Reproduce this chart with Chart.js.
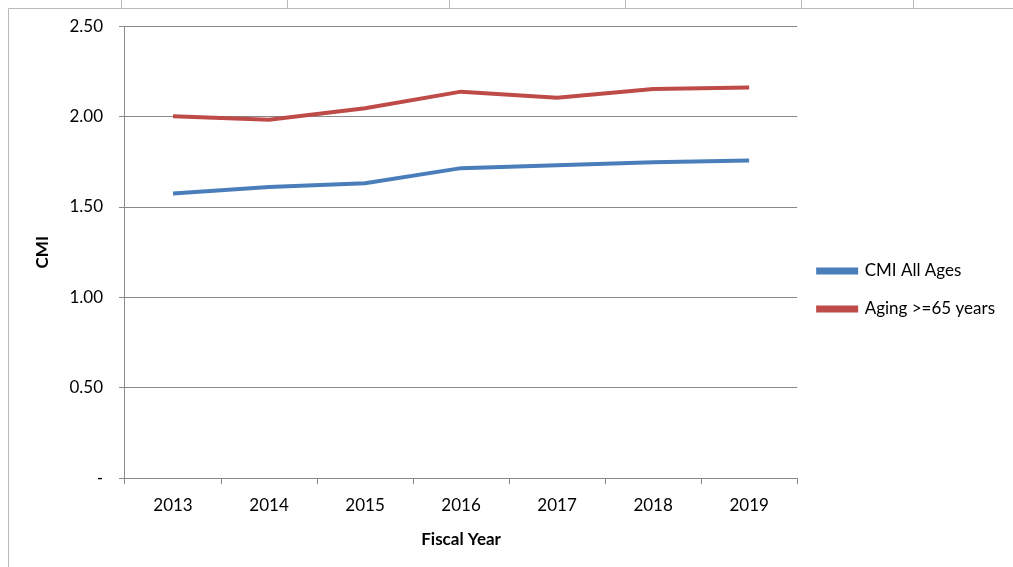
<!DOCTYPE html>
<html lang="en">
<head>
  <meta charset="UTF-8" />
  <title>CMI by Fiscal Year</title>
  <script src="https://cdn.jsdelivr.net/npm/chart.js"></script>
  <style>
    html, body { margin: 0; padding: 0; background: #fff; }
    #wrap { position: relative; width: 1013px; height: 567px; }
  </style>
</head>
<body>
  <div id="wrap">
    <canvas id="cmiChart" width="1013" height="567"></canvas>
  </div>

  <script>
    // Case mix index per fiscal year
    const years = ['2013', '2014', '2015', '2016', '2017', '2018', '2019'];
    const cmiAllAges = [1.575, 1.61, 1.632, 1.715, 1.731, 1.747, 1.757];
    const cmiAging65 = [2.002, 1.982, 2.046, 2.138, 2.104, 2.152, 2.161];
    const yTicks = [0, 0.5, 1.0, 1.5, 2.0, 2.5];

    const gridGray = '#898989';
    const font = "Lato, 'Liberation Sans', sans-serif";

    // worksheet cell borders behind the chart
    const sheetLines = {
      id: 'sheetLines',
      beforeDraw(chart) {
        const ctx = chart.ctx;
        ctx.save();
        ctx.fillStyle = '#fff';
        ctx.fillRect(0, 0, chart.width, chart.height);
        ctx.strokeStyle = '#b9b9b9';
        ctx.lineWidth = 1;
        ctx.beginPath();
        ctx.moveTo(8.5, 8.5);
        ctx.lineTo(chart.width, 8.5);
        ctx.moveTo(8.5, 8.5);
        ctx.lineTo(8.5, chart.height);
        [121, 287, 449, 625, 801, 913].forEach(x => {
          ctx.moveTo(x + 0.5, 0);
          ctx.lineTo(x + 0.5, 8);
        });
        ctx.stroke();
        ctx.restore();
      }
    };

    const ctx = document.getElementById('cmiChart').getContext('2d');
    new Chart(ctx, {
      type: 'line',
      data: {
        labels: years,
        datasets: [
          {
            label: 'CMI All Ages',
            data: cmiAllAges,
            borderColor: '#4a7ebb',
            backgroundColor: '#4a7ebb',
            borderWidth: 4,
            pointRadius: 0,
            tension: 0
          },
          {
            label: 'Aging >=65 years',
            data: cmiAging65,
            borderColor: '#be4b48',
            backgroundColor: '#be4b48',
            borderWidth: 4,
            pointRadius: 0,
            tension: 0
          }
        ]
      },
      options: {
        responsive: false,
        animation: false,
        layout: { padding: { top: 26, left: 28, right: 8, bottom: 13 } },
        plugins: {
          tooltip: { enabled: false },
          legend: {
            position: 'right',
            labels: {
              boxWidth: 38,
              boxHeight: 3,
              padding: 21,
              color: '#000',
              font: { family: font, size: 17 }
            }
          }
        },
        scales: {
          x: {
            offset: true,
            grid: {
              offset: true,
              drawOnChartArea: false,
              color: gridGray,
              tickLength: 6
            },
            border: { color: gridGray, width: 1 },
            ticks: {
              color: '#000',
              padding: 11,
              font: { family: font, size: 17 }
            },
            title: {
              display: true,
              text: 'Fiscal Year',
              color: '#000',
              padding: { top: 3 },
              font: { family: font, size: 17, weight: 'bold' }
            }
          },
          y: {
            min: 0,
            max: 2.5,
            afterBuildTicks(axis) {
              axis.ticks = yTicks.map(v => ({ value: v }));
            },
            grid: {
              color: gridGray,
              tickLength: 6
            },
            border: { color: gridGray, width: 1 },
            ticks: {
              color: '#000',
              padding: 16,
              font: { family: font, size: 17 },
              callback: v => v === 0 ? '-' : v.toFixed(2)
            },
            title: {
              display: true,
              text: 'CMI',
              color: '#000',
              padding: { bottom: 1 },
              font: { family: font, size: 17, weight: 'bold' }
            }
          }
        }
      },
      plugins: [sheetLines]
    });
  </script>
</body>
</html>
